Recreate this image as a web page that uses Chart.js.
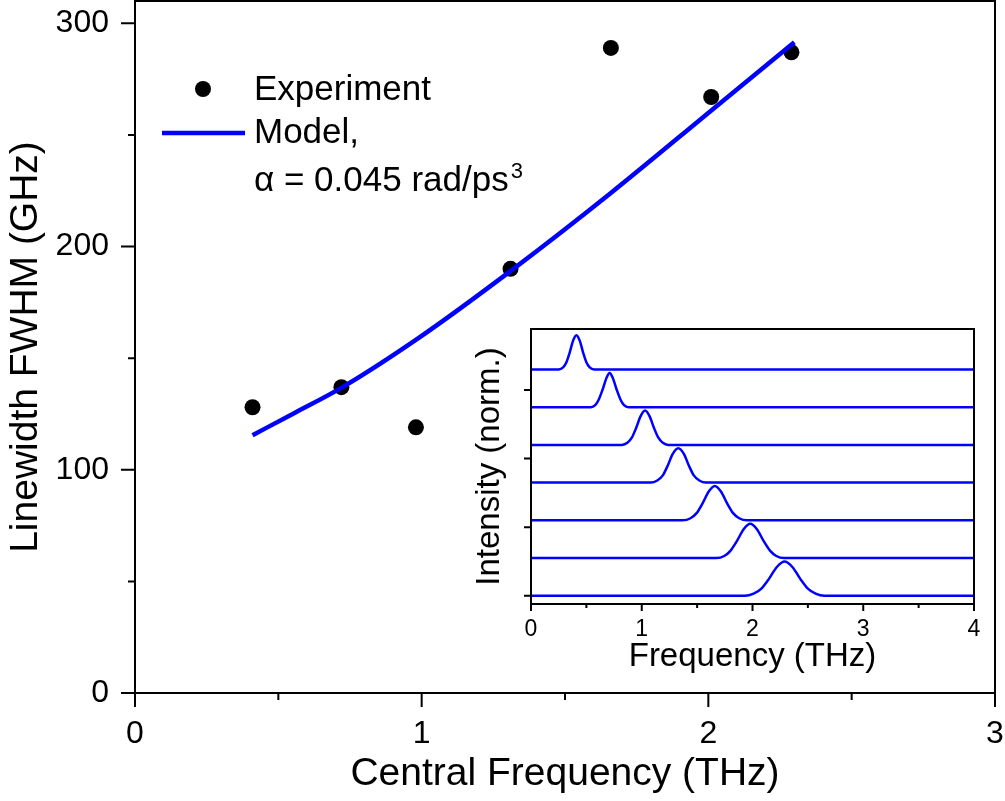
<!DOCTYPE html>
<html>
<head>
<meta charset="utf-8">
<script src="https://cdn.jsdelivr.net/npm/chart.js@4.4.1/dist/chart.umd.min.js"></script>
<style>
  html, body { margin: 0; padding: 0; background: #fff; }
  #wrap { position: relative; width: 1005px; height: 801px; }
  #main { position: absolute; left: 0; top: 0; }
  #inset { position: absolute; left: 440px; top: 320px; }
</style>
</head>
<body>
<div id="wrap">
  <canvas id="main" width="1005" height="801"></canvas>
  <canvas id="inset" width="550" height="360"></canvas>
</div>
<script>
const FONT = "'Liberation Sans', Arial, sans-serif";
const BLUE = "#0000ff";

// main panel: linewidth vs central frequency
const expFreq = [0.41, 0.72, 0.98, 1.31, 1.66, 2.01, 2.29];
const expWidth = [128, 137, 119, 190, 289, 267, 287];
const modelFreq = [0.41, 0.55, 0.73, 1.0, 1.32, 1.66, 2.02, 2.30];
const modelWidth = [115.5, 125, 137.5, 160, 190, 224, 262, 291.5];
const xTicksMain = [0, 1, 2, 3];
const yTicksMain = [0, 100, 200, 300];

// inset: normalized spectra, stacked
const traceFreq = [
  [0, 0.25, 0.29, 0.32, 0.35, 0.38, 0.41, 0.44, 0.47, 0.50, 0.53, 0.57, 4],
  [0, 0.54, 0.58, 0.61, 0.645, 0.68, 0.71, 0.74, 0.775, 0.81, 0.84, 0.88, 4],
  [0, 0.82, 0.87, 0.91, 0.95, 0.99, 1.03, 1.07, 1.11, 1.15, 1.19, 1.24, 4],
  [0, 1.08, 1.14, 1.19, 1.235, 1.28, 1.33, 1.38, 1.425, 1.47, 1.52, 1.58, 4],
  [0, 1.37, 1.44, 1.495, 1.55, 1.605, 1.66, 1.715, 1.77, 1.825, 1.88, 1.95, 4],
  [0, 1.675, 1.745, 1.80, 1.86, 1.92, 1.98, 2.04, 2.10, 2.16, 2.215, 2.285, 4],
  [0, 1.93, 2.01, 2.08, 2.15, 2.22, 2.29, 2.36, 2.43, 2.50, 2.57, 2.65, 4]
];
const traceShape = [0, 0, 0.06, 0.21, 0.5, 0.84, 1, 0.84, 0.5, 0.21, 0.06, 0, 0];
const traceOffset = [6.6, 5.5, 4.4, 3.3, 2.2, 1.1, 0];
const xTicksInset = [0, 1, 2, 3, 4];

// draws the box and the outward major/minor ticks
const frameTicks = {
  id: "frameTicks",
  afterDraw(chart, args, opts) {
    const { ctx, chartArea: a, scales: { x, y } } = chart;
    ctx.save();
    ctx.strokeStyle = "#000";
    ctx.lineWidth = opts.width;
    ctx.beginPath();
    opts.xMajor.forEach(v => { const p = x.getPixelForValue(v); ctx.moveTo(p, a.bottom); ctx.lineTo(p, a.bottom + opts.major); });
    opts.xMinor.forEach(v => { const p = x.getPixelForValue(v); ctx.moveTo(p, a.bottom); ctx.lineTo(p, a.bottom + opts.minor); });
    opts.yMajor.forEach(v => { const p = y.getPixelForValue(v); ctx.moveTo(a.left, p); ctx.lineTo(a.left - opts.major, p); });
    opts.yMinor.forEach(v => { const p = y.getPixelForValue(v); ctx.moveTo(a.left, p); ctx.lineTo(a.left - opts.minor, p); });
    ctx.stroke();
    ctx.strokeRect(a.left, a.top, a.right - a.left, a.bottom - a.top);
    ctx.restore();
  }
};

const legendBox = {
  id: "legendBox",
  afterDraw(chart) {
    const ctx = chart.ctx;
    ctx.save();
    ctx.fillStyle = "#000";
    ctx.beginPath();
    ctx.arc(203, 89, 8, 0, Math.PI * 2);
    ctx.fill();
    ctx.strokeStyle = BLUE;
    ctx.lineWidth = 4.5;
    ctx.beginPath();
    ctx.moveTo(162, 133);
    ctx.lineTo(245, 133);
    ctx.stroke();
    ctx.font = "35px " + FONT;
    ctx.textBaseline = "middle";
    ctx.textAlign = "left";
    ctx.fillText("Experiment", 254, 90);
    ctx.fillText("Model,", 254, 133);
    const s = "α = 0.045 rad/ps";
    ctx.fillText(s, 254, 181);
    const w = ctx.measureText(s).width;
    ctx.font = "22px " + FONT;
    ctx.fillText("3", 254 + w + 2, 172);
    ctx.restore();
  }
};

function noPad(s) {
  s.paddingTop = 0; s.paddingBottom = 0; s.paddingLeft = 0; s.paddingRight = 0;
}

function fixTicks(list) {
  return s => { s.ticks = list.map(v => ({ value: v })); };
}

new Chart(document.getElementById("main"), {
  type: "scatter",
  data: {
    datasets: [
      {
        label: "Model",
        data: modelFreq.map((f, i) => ({ x: f, y: modelWidth[i] })),
        showLine: true,
        borderColor: BLUE,
        borderWidth: 4.5,
        pointRadius: 0,
        cubicInterpolationMode: "monotone"
      },
      {
        label: "Experiment",
        data: expFreq.map((f, i) => ({ x: f, y: expWidth[i] })),
        backgroundColor: "#000",
        borderWidth: 0,
        pointRadius: 8
      }
    ]
  },
  options: {
    responsive: false,
    animation: false,
    events: [],
    layout: { autoPadding: false, padding: { top: 1, right: 10, left: 0, bottom: 0 } },
    plugins: {
      legend: { display: false },
      tooltip: { enabled: false },
      frameTicks: {
        width: 2, major: 14, minor: 7,
        xMajor: xTicksMain, xMinor: [0.5, 1.5, 2.5],
        yMajor: yTicksMain, yMinor: [50, 150, 250]
      }
    },
    scales: {
      x: {
        type: "linear", min: 0, max: 3, bounds: "data",
        grid: { display: false, drawTicks: false },
        border: { display: false },
        ticks: { color: "#000", padding: 22, font: { family: FONT, size: 32 } },
        afterBuildTicks: fixTicks(xTicksMain),
        title: { display: true, text: "Central Frequency (THz)", color: "#000", font: { family: FONT, size: 39 }, padding: { top: 0, bottom: 3 } },
        afterFit: s => { s.height = 108; noPad(s); }
      },
      y: {
        min: 0, max: 310, bounds: "data",
        grid: { display: false, drawTicks: false },
        border: { display: false },
        ticks: { color: "#000", padding: 26, font: { family: FONT, size: 32 } },
        afterBuildTicks: fixTicks(yTicksMain),
        title: { display: true, text: "Linewidth FWHM (GHz)", color: "#000", font: { family: FONT, size: 39 }, padding: { top: 3, bottom: 0 } },
        afterFit: s => { s.width = 135; noPad(s); }
      }
    }
  },
  plugins: [frameTicks, legendBox]
});

new Chart(document.getElementById("inset"), {
  type: "scatter",
  data: {
    datasets: traceFreq.map((fs, i) => ({
      data: fs.map((f, j) => ({ x: f, y: traceShape[j] + traceOffset[i] })),
      showLine: true,
      borderColor: BLUE,
      borderWidth: 2.5,
      pointRadius: 0,
      cubicInterpolationMode: "monotone"
    }))
  },
  options: {
    responsive: false,
    animation: false,
    events: [],
    layout: { autoPadding: false, padding: { top: 9, right: 16, left: 0, bottom: 0 } },
    plugins: {
      legend: { display: false },
      tooltip: { enabled: false },
      frameTicks: {
        width: 2, major: 7, minor: 4,
        xMajor: xTicksInset, xMinor: [0.5, 1.5, 2.5, 3.5],
        yMajor: [0, 2, 4, 6], yMinor: []
      }
    },
    scales: {
      x: {
        type: "linear", min: 0, max: 4, bounds: "data",
        grid: { display: false, drawTicks: false },
        border: { display: false },
        ticks: { color: "#000", padding: 12, font: { family: FONT, size: 23 } },
        afterBuildTicks: fixTicks(xTicksInset),
        title: { display: true, text: "Frequency (THz)", color: "#000", font: { family: FONT, size: 33 }, padding: { top: 0, bottom: 3 } },
        afterFit: s => { s.height = 76; noPad(s); }
      },
      y: {
        min: -0.24, max: 7.78, bounds: "data",
        grid: { display: false, drawTicks: false },
        border: { display: false },
        ticks: { display: false },
        title: { display: true, text: "Intensity (norm.)", color: "#000", font: { family: FONT, size: 33 }, padding: { top: 30, bottom: 0 } },
        afterFit: s => { s.width = 91; noPad(s); }
      }
    }
  },
  plugins: [frameTicks]
});
</script>
</body>
</html>
